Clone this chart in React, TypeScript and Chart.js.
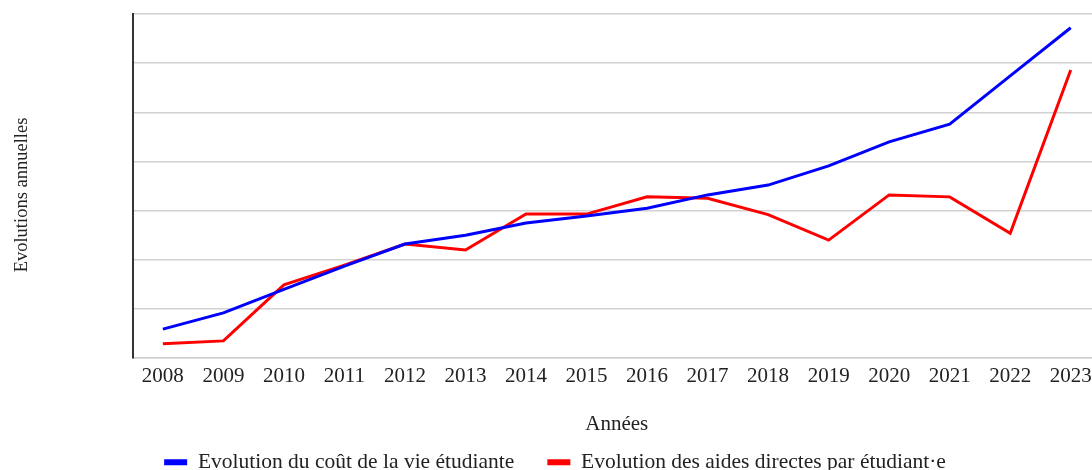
import React, { useEffect, useRef } from "react";
import { Chart, registerables } from "chart.js";

Chart.register(...registerables);

const years = ["2008", "2009", "2010", "2011", "2012", "2013", "2014", "2015", "2016", "2017", "2018", "2019", "2020", "2021", "2022", "2023"];
const coutVie = [0.59, 0.92, 1.4, 1.87, 2.32, 2.5, 2.75, 2.89, 3.05, 3.32, 3.52, 3.91, 4.4, 4.76, 5.74, 6.72];
const aidesDirectes = [0.29, 0.35, 1.49, 1.89, 2.32, 2.2, 2.93, 2.93, 3.28, 3.25, 2.92, 2.4, 3.32, 3.28, 2.54, 5.86];
const labelCout = "Evolution du coût de la vie étudiante";
const labelAides = "Evolution des aides directes par étudiant·e";
const yTitle = "Evolutions annuelles";
const xTitle = "Années";

const SERIF = "'Liberation Serif', 'Times New Roman', serif";

const yTitlePlugin = {
  id: "yTitlePlugin",
  afterDraw(chart: any) {
    const ctx = chart.ctx;
    ctx.save();
    ctx.translate(22, 195);
    ctx.rotate(-Math.PI / 2);
    ctx.fillStyle = "#222";
    ctx.font = `18.5px ${SERIF}`;
    ctx.textAlign = "center";
    ctx.textBaseline = "middle";
    ctx.fillText(yTitle, 0, 0);
    ctx.restore();
  },
};

export default function App() {
  const ref = useRef<HTMLCanvasElement | null>(null);
  useEffect(() => {
    if (!ref.current) return;
    const chart = new Chart(ref.current, {
      type: "line",
      data: {
        labels: years,
        datasets: [
          { label: labelCout, data: coutVie, borderColor: "#0000ff", backgroundColor: "#0000ff", borderWidth: 3, pointRadius: 0, tension: 0 },
          { label: labelAides, data: aidesDirectes, borderColor: "#ff0000", backgroundColor: "#ff0000", borderWidth: 3, pointRadius: 0, tension: 0 },
        ],
      },
      options: {
        responsive: false,
        animation: false,
        layout: { padding: { top: 14, left: 0, right: 0, bottom: 0 } },
        scales: {
          x: {
            offset: true,
            grid: { display: false, drawTicks: false },
            border: { display: true, color: "#cfcfcf", width: 1.5 },
            ticks: { color: "#222", font: { family: SERIF, size: 21 }, padding: 6, autoSkip: false, maxRotation: 0 },
            title: { display: true, text: xTitle, color: "#222", font: { family: SERIF, size: 21 }, padding: { top: 17, bottom: -19 } },
          },
          y: {
            min: 0,
            max: 7,
            ticks: { display: false, stepSize: 1 },
            grid: { color: "#d2d2d2", lineWidth: 1.5, drawTicks: false },
            border: { display: true, color: "#333", width: 2 },
            afterFit: (scale: any) => {
              scale.width = 132.6;
            },
          },
          y2: {
            position: "right",
            display: true,
            ticks: { display: false },
            grid: { display: false, drawTicks: false },
            border: { display: false },
            afterFit: (scale: any) => {
              scale.width = 9;
            },
          },
        },
        plugins: {
          tooltip: { enabled: false },
          legend: {
            position: "bottom",
            labels: {
              color: "#222",
              font: { family: SERIF, size: 21.5 },
              boxWidth: 23,
              boxHeight: 6,
              padding: 33,
              generateLabels: (c: any) =>
                Chart.defaults.plugins.legend.labels.generateLabels(c).map((l: any) => ({ ...l, lineWidth: 0 })),
            },
          },
        },
      },
      plugins: [yTitlePlugin],
    });
    return () => chart.destroy();
  }, []);
  return (
    <div style={{ position: "fixed", left: 0, top: 0, width: 1092, height: 470, overflow: "hidden", background: "#fff" }}>
      <canvas ref={ref} width={1110} height={483} style={{ display: "block" }} />
    </div>
  );
}
